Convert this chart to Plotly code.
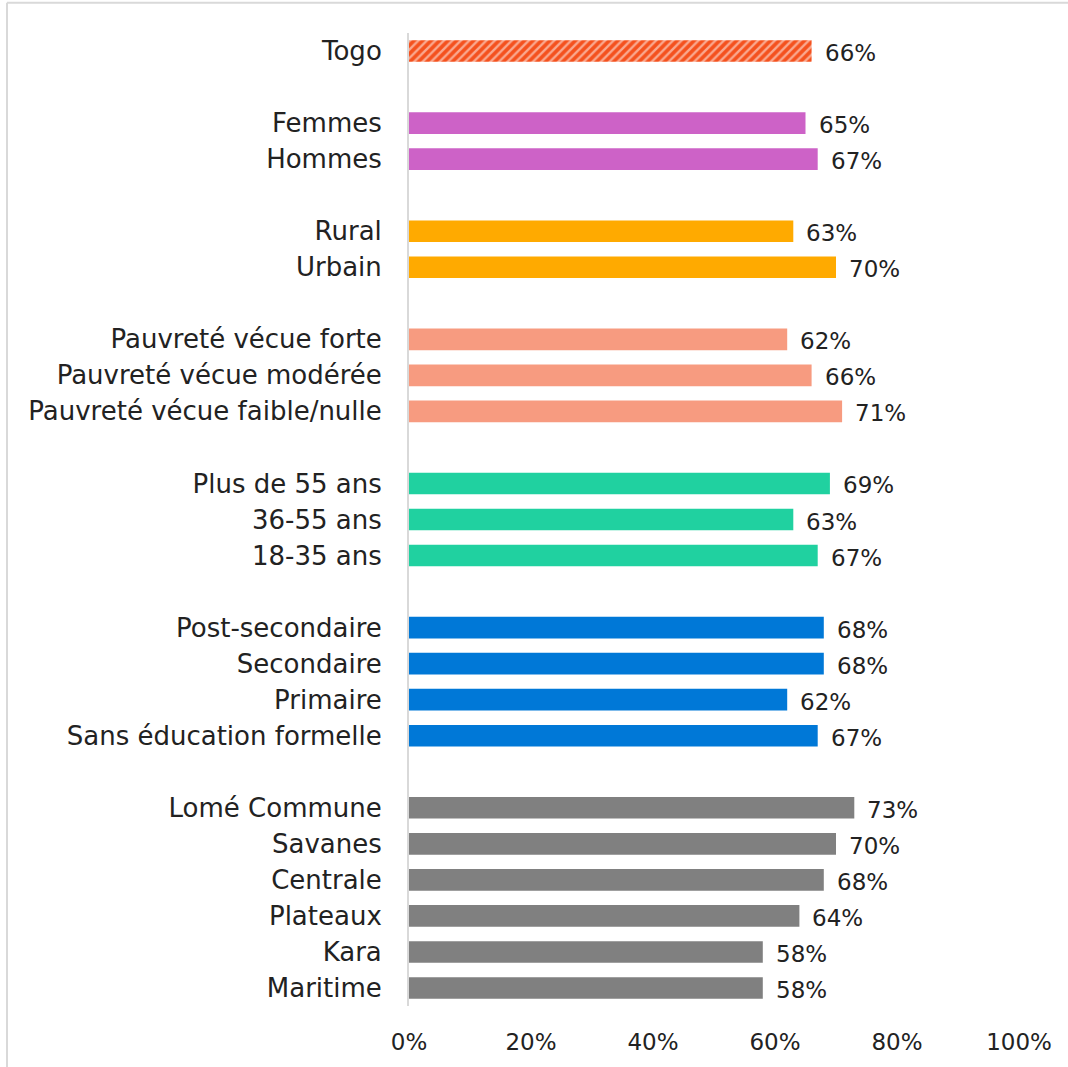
import plotly.graph_objects as go

# Survey shares by group (percent)
groups = [
    ["Togo"],
    ["Femmes", "Hommes"],
    ["Rural", "Urbain"],
    ["Pauvreté vécue forte", "Pauvreté vécue modérée", "Pauvreté vécue faible/nulle"],
    ["Plus de 55 ans", "36-55 ans", "18-35 ans"],
    ["Post-secondaire", "Secondaire", "Primaire", "Sans éducation formelle"],
    ["Lomé Commune", "Savanes", "Centrale", "Plateaux", "Kara", "Maritime"],
]
group_values = [
    [66],
    [65, 67],
    [63, 70],
    [62, 66, 71],
    [69, 63, 67],
    [68, 68, 62, 67],
    [73, 70, 68, 64, 58, 58],
]
group_colors = ["#F4511E", "#CD62C7", "#FFAA00", "#F79B80", "#20D1A0", "#0078D7", "#808080"]

x_ticks = [0, 20, 40, 60, 80, 100]
x_tick_labels = ["0%", "20%", "40%", "60%", "80%", "100%"]

FONT = "DejaVu Sans"
LABEL_SIZE = 26
NUM_SIZE = 23
TEXT_COLOR = "#222222"

fig = go.Figure()

# lay out rows top-down, leaving one empty slot between groups
slot = 0
tickvals, ticktext = [], []
annotations = []
for gi, (labels, vals) in enumerate(zip(groups, group_values)):
    ys = []
    for lab, v in zip(labels, vals):
        ys.append(-slot)
        tickvals.append(-slot)
        ticktext.append(lab)
        annotations.append(dict(
            x=v, y=-slot, xref="x", yref="y", text=f"{v}%", showarrow=False,
            xanchor="left", xshift=11, yshift=-2,
            font=dict(family=FONT, size=NUM_SIZE, color=TEXT_COLOR),
        ))
        slot += 1
    slot += 1
    marker = dict(color=group_colors[gi], line=dict(width=0))
    if gi == 0:
        # national total drawn with a hatched fill
        marker = dict(
            color=group_colors[gi], line=dict(width=0),
            pattern=dict(shape="/", fgcolor="white", size=6, solidity=0.4,
                         fillmode="overlay"),
        )
    fig.add_trace(go.Bar(
        x=vals, y=ys, orientation="h", width=0.6, marker=marker,
        showlegend=False, hoverinfo="x+y",
    ))

n_slots = slot - 1

# outer frame (left and top edges)
frame_color = "#d9d9d9"
fig.add_shape(type="line", xref="paper", yref="paper", x0=-0.659, x1=-0.659,
              y0=1.031, y1=-0.08, line=dict(color=frame_color, width=2))
fig.add_shape(type="line", xref="paper", yref="paper", x0=-0.659, x1=1.1,
              y0=1.031, y1=1.031, line=dict(color=frame_color, width=2))

fig.update_layout(
    width=1068, height=1067,
    margin=dict(l=409, r=49, t=33, b=58),
    paper_bgcolor="white", plot_bgcolor="white",
    bargap=0.4,
    annotations=annotations,
    font=dict(family=FONT, color=TEXT_COLOR),
)
fig.update_xaxes(
    range=[0, 100], tickvals=x_ticks, ticktext=x_tick_labels,
    showgrid=False, zeroline=False, showline=False,
    tickfont=dict(family=FONT, size=NUM_SIZE, color=TEXT_COLOR),
    ticklabelstandoff=20,
)
fig.update_yaxes(
    range=[-n_slots + 0.5, 0.5], tickvals=tickvals, ticktext=ticktext,
    showgrid=False, zeroline=False, showline=True,
    linecolor="#d9d9d9", linewidth=2,
    tickfont=dict(family=FONT, size=LABEL_SIZE, color=TEXT_COLOR),
    ticklabelstandoff=20,
)

fig.write_html("out.html")
